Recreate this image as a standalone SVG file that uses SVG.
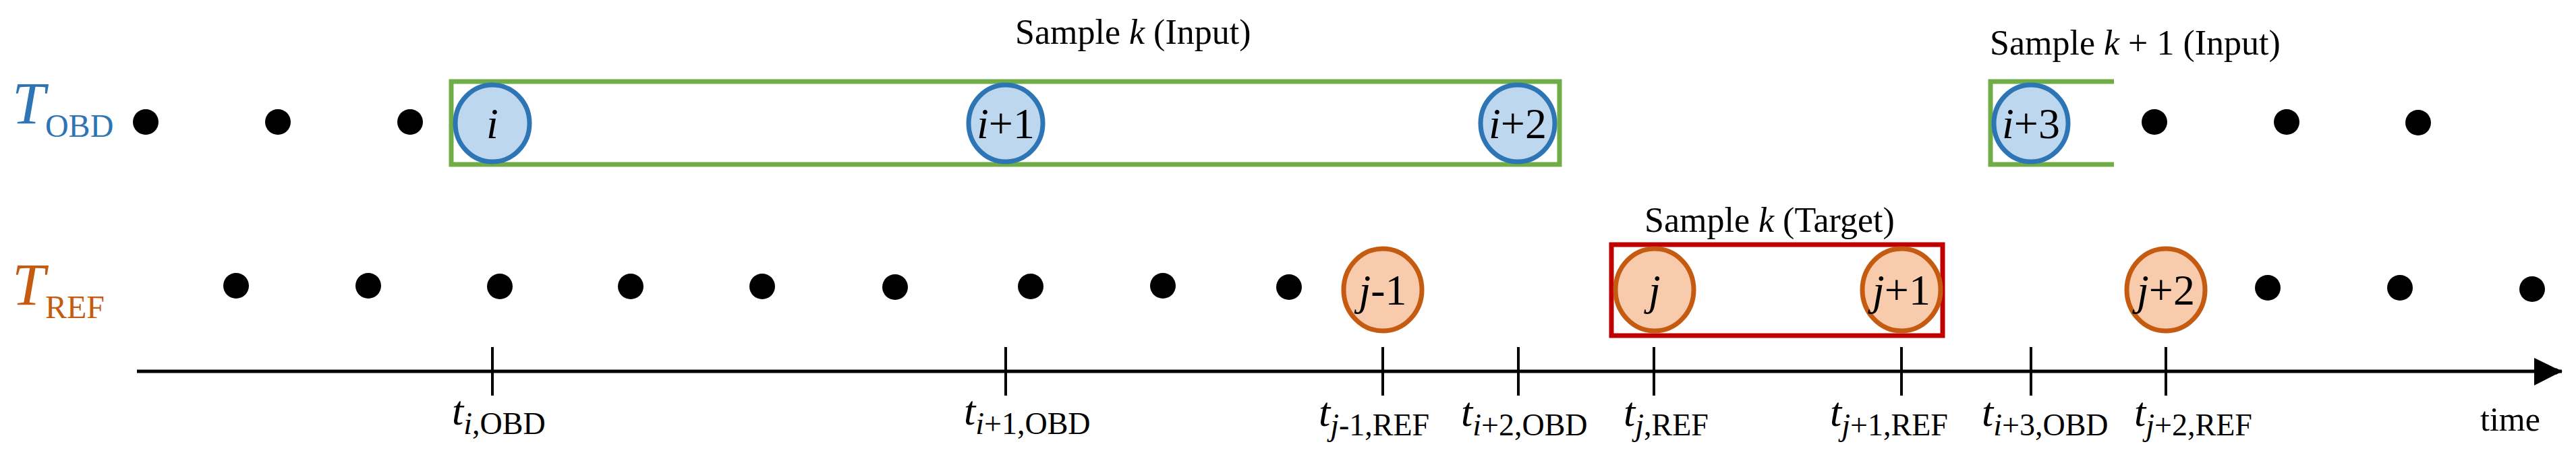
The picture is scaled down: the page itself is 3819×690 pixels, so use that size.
<svg xmlns="http://www.w3.org/2000/svg" width="3819" height="690" viewBox="0 0 3819 690">
<style>
text{font-family:"Liberation Serif","DejaVu Serif",serif;fill:#000}
.it{font-style:italic}
.dot{fill:#000}
.obd{fill:#bdd7ee;stroke:#2e75b6;stroke-width:7}
.ref{fill:#f8cbad;stroke:#c55a11;stroke-width:7}
.nl{font-size:64px;text-anchor:middle}
.tl{font-size:62px}
.sub{font-size:46px}
.cap{font-size:52px}
</style>
<defs><marker id="ah" markerWidth="10" markerHeight="10" refX="9" refY="5" orient="auto" markerUnits="userSpaceOnUse" viewBox="0 0 10 10"><path d="M0,0 L10,5 L0,10 z" fill="#000"/></marker></defs>
<g id="row-labels">
<text x="18" y="183" class="it" style="font-size:88px;fill:#2e75b6">T<tspan style="font-style:normal;font-size:48px" dy="20">OBD</tspan></text>
<text x="18" y="452" class="it" style="font-size:88px;fill:#c55a11">T<tspan style="font-style:normal;font-size:48px" dy="20">REF</tspan></text>
</g>
<g id="frames">
<rect x="669" y="121" width="1643" height="123" fill="none" stroke="#70ad47" stroke-width="7"/>
<path d="M3134,121 H2951 V244 H3134" fill="none" stroke="#70ad47" stroke-width="7"/>
<rect x="2389" y="363" width="491" height="135" fill="none" stroke="#c00000" stroke-width="7"/>
<text x="1505" y="65" class="cap">Sample <tspan class="it">k</tspan> (Input)</text>
<text x="2950" y="81" class="cap">Sample <tspan class="it">k</tspan> + 1 (Input)</text>
<text x="2438" y="344" class="cap">Sample <tspan class="it">k</tspan> (Target)</text>
</g>
<g id="dots">
<circle class="dot" cx="216" cy="181" r="19"/><circle class="dot" cx="412" cy="181" r="19"/><circle class="dot" cx="608" cy="181" r="19"/>
<circle class="dot" cx="3194" cy="181" r="19"/><circle class="dot" cx="3390" cy="181" r="19"/><circle class="dot" cx="3585" cy="182" r="19"/>
<circle class="dot" cx="350" cy="424" r="19"/><circle class="dot" cx="546" cy="424" r="19"/><circle class="dot" cx="741" cy="425" r="19"/><circle class="dot" cx="935" cy="425" r="19"/><circle class="dot" cx="1130" cy="425" r="19"/>
<circle class="dot" cx="1327" cy="426" r="19"/><circle class="dot" cx="1528" cy="425" r="19"/><circle class="dot" cx="1724" cy="424" r="19"/><circle class="dot" cx="1911" cy="426" r="19"/>
<circle class="dot" cx="3362" cy="427" r="19"/><circle class="dot" cx="3558" cy="427" r="19"/><circle class="dot" cx="3754" cy="429" r="19"/>
</g>
<g id="node-i"><ellipse class="obd" cx="730" cy="183" rx="55" ry="57"/><text x="730" y="205" class="nl it">i</text></g>
<g id="node-i1"><ellipse class="obd" cx="1491" cy="183" rx="55" ry="57"/><text x="1491" y="205" class="nl"><tspan class="it">i</tspan>+1</text></g>
<g id="node-i2"><ellipse class="obd" cx="2250" cy="183" rx="55" ry="57"/><text x="2250" y="205" class="nl"><tspan class="it">i</tspan>+2</text></g>
<g id="node-i3"><ellipse class="obd" cx="3011" cy="183" rx="55" ry="57"/><text x="3011" y="205" class="nl"><tspan class="it">i</tspan>+3</text></g>
<g id="node-jm1"><ellipse class="ref" cx="2050" cy="430" rx="58" ry="61"/><text x="2050" y="452" class="nl"><tspan class="it">j</tspan>-1</text></g>
<g id="node-j"><ellipse class="ref" cx="2453" cy="430" rx="58" ry="61"/><text x="2453" y="452" class="nl it">j</text></g>
<g id="node-j1"><ellipse class="ref" cx="2819" cy="430" rx="58" ry="61"/><text x="2819" y="452" class="nl"><tspan class="it">j</tspan>+1</text></g>
<g id="node-j2"><ellipse class="ref" cx="3211" cy="430" rx="58" ry="61"/><text x="3211" y="452" class="nl"><tspan class="it">j</tspan>+2</text></g>
<g id="connectors" stroke="#000">
<line x1="203" y1="551" x2="3798" y2="551" stroke-width="5" marker-end="url(#ah)"/>
<path d="M3757,531 L3798,551 L3757,572 z" fill="#000" stroke="none"/>
<g stroke-width="4">
<line x1="730" y1="515" x2="730" y2="587"/><line x1="1491" y1="515" x2="1491" y2="587"/><line x1="2050" y1="515" x2="2050" y2="587"/><line x1="2251" y1="515" x2="2251" y2="587"/><line x1="2452" y1="515" x2="2452" y2="587"/><line x1="2819" y1="515" x2="2819" y2="587"/><line x1="3011" y1="515" x2="3011" y2="587"/><line x1="3211" y1="515" x2="3211" y2="587"/>
</g>
</g>
<g id="tick-labels">
<text x="670" y="630" class="tl"><tspan class="it">t</tspan><tspan class="sub" dy="14"><tspan class="it">i</tspan>,OBD</tspan></text>
<text x="1429" y="630" class="tl"><tspan class="it">t</tspan><tspan class="sub" dy="14"><tspan class="it">i</tspan>+1,OBD</tspan></text>
<text x="1955" y="632" class="tl"><tspan class="it">t</tspan><tspan class="sub" dy="14"><tspan class="it">j</tspan>-1,REF</tspan></text>
<text x="2166" y="632" class="tl"><tspan class="it">t</tspan><tspan class="sub" dy="14"><tspan class="it">i</tspan>+2,OBD</tspan></text>
<text x="2407" y="632" class="tl"><tspan class="it">t</tspan><tspan class="sub" dy="14"><tspan class="it">j</tspan>,REF</tspan></text>
<text x="2713" y="632" class="tl"><tspan class="it">t</tspan><tspan class="sub" dy="14"><tspan class="it">j</tspan>+1,REF</tspan></text>
<text x="2938" y="632" class="tl"><tspan class="it">t</tspan><tspan class="sub" dy="14"><tspan class="it">i</tspan>+3,OBD</tspan></text>
<text x="3164" y="632" class="tl"><tspan class="it">t</tspan><tspan class="sub" dy="14"><tspan class="it">j</tspan>+2,REF</tspan></text>
<text x="3677" y="639" style="font-size:50px">time</text>
</g>
</svg>
